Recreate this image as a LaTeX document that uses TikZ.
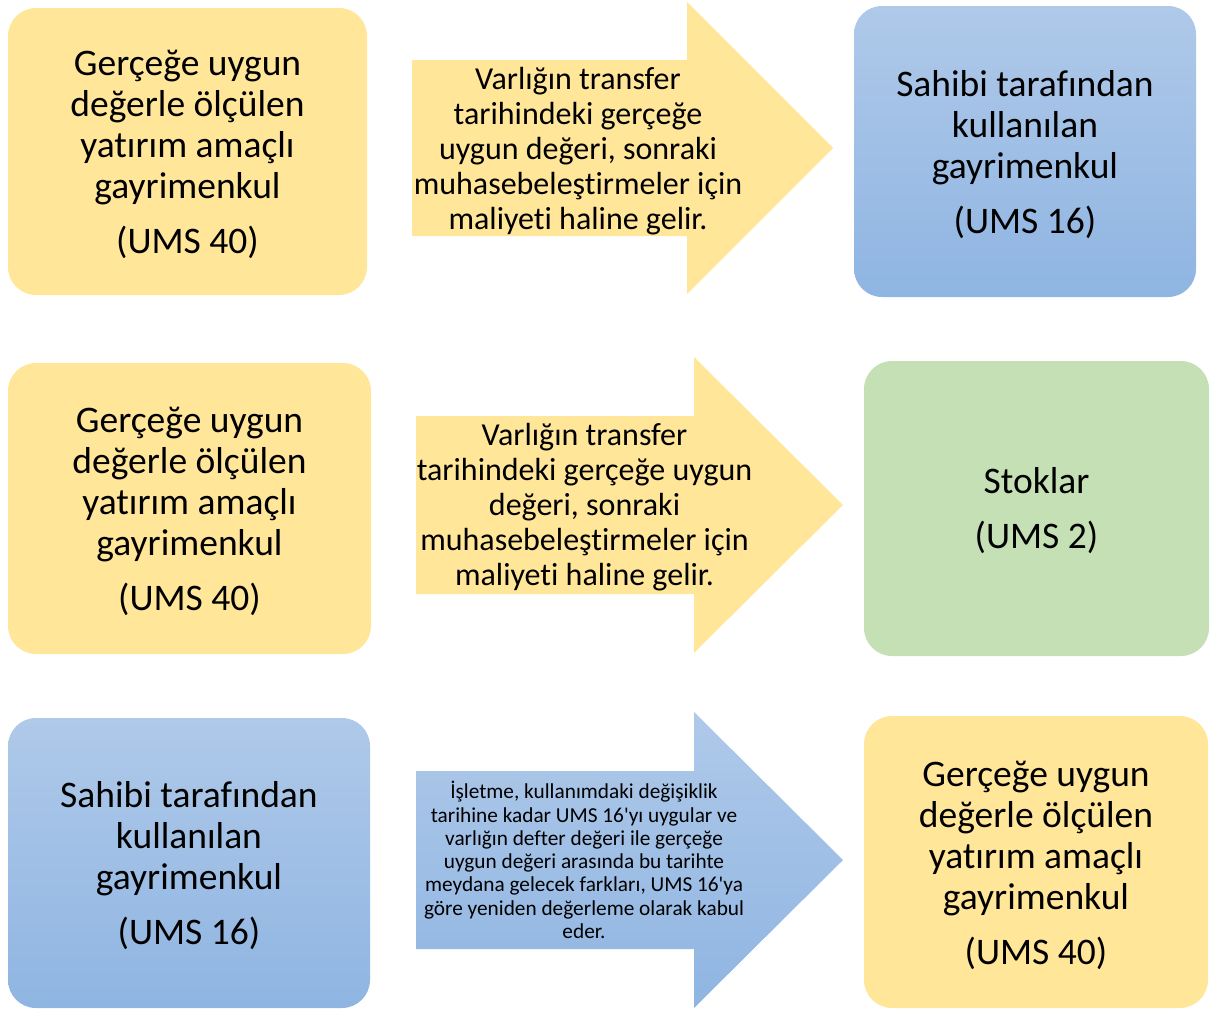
\documentclass[tikz,border=0pt]{standalone}
\usepackage{fontspec}
\setmainfont{Carlito}[Ligatures={TeXOff,NoCommon}]
\definecolor{ylw}{HTML}{FFE699}
\definecolor{grn}{HTML}{C5E0B4}
\definecolor{bluetop}{HTML}{AFC9E9}
\definecolor{bluebot}{HTML}{8FB5E2}
\tikzset{
  box/.style={rounded corners=28pt, inner sep=0pt},
  ybox/.style={box, fill=ylw},
  gbox/.style={box, fill=grn},
  bbox/.style={box, top color=bluetop, bottom color=bluebot},
  boxtxt/.style={align=center, inner sep=0pt, text=black,
    font=\fontsize{37.5}{41}\selectfont, yshift=-3pt},
  arrtxt/.style={align=center, inner sep=0pt, font=\fontsize{32}{35}\selectfont},
  arrtxtsmall/.style={align=center, inner sep=0pt, font=\fontsize{21.3}{23.3}\selectfont}
}
\begin{document}
\begin{tikzpicture}[x=1pt,y=-1pt]
\useasboundingbox (0,0) rectangle (1213,1009);
\clip (0,0) rectangle (1213,1009);
% Row 1
\node[ybox, minimum width=359pt, minimum height=287pt] (a1) at (187.5,151.5) {};
\node[boxtxt] (a1t) at (a1.center)
  {Gerçeğe uygun\\değerle ölçülen\\yatırım amaçlı\\gayrimenkul\\[14pt](UMS 40)};
\fill[ylw] (412,60) -- (687,60) -- (687,2) -- (833,148) -- (687,294) -- (687,236) -- (412,236) -- cycle;
\node[arrtxt] (t1) at (578,151)
  {Varlığın transfer\\tarihindeki gerçeğe\\uygun değeri, sonraki\\muhasebeleştirmeler için\\maliyeti haline gelir.};
\node[bbox, minimum width=342pt, minimum height=291pt] (b1) at (1025,151.5) {};
\node[boxtxt] (b1t) at (b1.center)
  {Sahibi tarafından\\kullanılan\\gayrimenkul\\[14pt](UMS 16)};
% Row 2
\node[ybox, minimum width=363pt, minimum height=291pt] (a2) at (189.5,508.5) {};
\node[boxtxt] (a2t) at (a2.center)
  {Gerçeğe uygun\\değerle ölçülen\\yatırım amaçlı\\gayrimenkul\\[14pt](UMS 40)};
\fill[ylw] (416,416) -- (694,416) -- (694,357) -- (843,505) -- (694,653) -- (694,594) -- (416,594) -- cycle;
\node[arrtxt] (t2) at (584.5,507)
  {Varlığın transfer\\tarihindeki gerçeğe uygun\\değeri, sonraki\\muhasebeleştirmeler için\\maliyeti haline gelir.};
\node[gbox, minimum width=345pt, minimum height=295pt] (b2) at (1036.5,508.5) {};
\node[boxtxt, yshift=1pt] (b2t) at (b2.center) {Stoklar\\[14pt](UMS 2)};
% Row 3
\node[bbox, minimum width=362pt, minimum height=290pt] (a3) at (189,863) {};
\node[boxtxt] (a3t) at (a3.center)
  {Sahibi tarafından\\kullanılan\\gayrimenkul\\[14pt](UMS 16)};
\shade[top color=bluetop, bottom color=bluebot] (416,771) -- (694,771) -- (694,712) -- (843,860) -- (694,1008) -- (694,949) -- (416,949) -- cycle;
\node[arrtxtsmall] (t3) at (584,860)
  {İşletme, kullanımdaki değişiklik\\tarihine kadar UMS 16'yı uygular ve\\varlığın defter değeri ile gerçeğe\\uygun değeri arasında bu tarihte\\meydana gelecek farkları, UMS 16'ya\\göre yeniden değerleme olarak kabul\\eder.};
\node[ybox, minimum width=344pt, minimum height=292pt] (b3) at (1036,862) {};
\node[boxtxt] (b3t) at (b3.center)
  {Gerçeğe uygun\\değerle ölçülen\\yatırım amaçlı\\gayrimenkul\\[14pt](UMS 40)};
\end{tikzpicture}
\end{document}
